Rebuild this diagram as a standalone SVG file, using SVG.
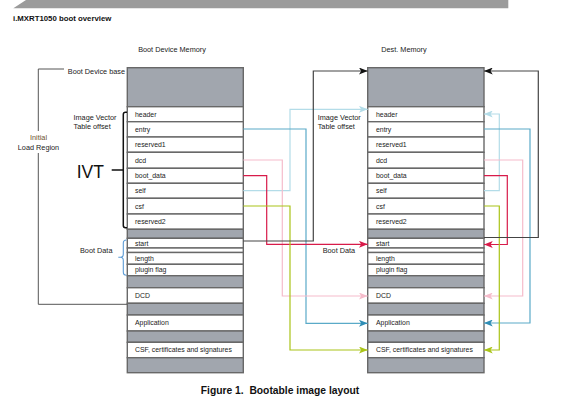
<svg xmlns="http://www.w3.org/2000/svg" width="562" height="415" viewBox="0 0 562 415">
<style>
.w{fill:#fff;stroke:#686868;stroke-width:1.4}
.g{fill:#a1a6ae;stroke:#686868;stroke-width:1.4}
.t{font-family:"Liberation Sans",Arial,sans-serif;font-size:6.9px;fill:#222}
.a{font-family:"Liberation Sans",Arial,sans-serif;font-size:7.3px;fill:#222}
.h{font-family:"Liberation Sans",Arial,sans-serif;font-weight:bold;fill:#111}
.c{fill:none;stroke-width:1.2}
</style>
<defs>
<marker id="m-k" viewBox="0 0 10 8" refX="10" refY="4" markerWidth="9" markerHeight="7" orient="auto" markerUnits="userSpaceOnUse"><path d="M0,0 L10,4 L0,8 L2.5,4z" fill="#111"/></marker>
<marker id="m-lb" viewBox="0 0 10 8" refX="10" refY="4" markerWidth="9" markerHeight="7" orient="auto" markerUnits="userSpaceOnUse"><path d="M0,0 L10,4 L0,8 L2.5,4z" fill="#b3dce8"/></marker>
<marker id="m-tb" viewBox="0 0 10 8" refX="10" refY="4" markerWidth="9" markerHeight="7" orient="auto" markerUnits="userSpaceOnUse"><path d="M0,0 L10,4 L0,8 L2.5,4z" fill="#2f8db5"/></marker>
<marker id="m-pk" viewBox="0 0 10 8" refX="10" refY="4" markerWidth="9" markerHeight="7" orient="auto" markerUnits="userSpaceOnUse"><path d="M0,0 L10,4 L0,8 L2.5,4z" fill="#f5bccb"/></marker>
<marker id="m-rd" viewBox="0 0 10 8" refX="10" refY="4" markerWidth="9" markerHeight="7" orient="auto" markerUnits="userSpaceOnUse"><path d="M0,0 L10,4 L0,8 L2.5,4z" fill="#d81b4a"/></marker>
<marker id="m-gr" viewBox="0 0 10 8" refX="10" refY="4" markerWidth="9" markerHeight="7" orient="auto" markerUnits="userSpaceOnUse"><path d="M0,0 L10,4 L0,8 L2.5,4z" fill="#aac418"/></marker>
</defs>

<rect width="562" height="415" fill="#fff"/>
<polygon points="13.3,8.3 26,0 508.3,0 508.3,8.3" fill="#9b9b9b"/>
<text class="h" x="13" y="20.5" font-size="7.8">i.MXRT1050 boot overview</text>
<text class="a" x="172" y="52" text-anchor="middle" font-size="7.2">Boot Device Memory</text>
<text class="a" x="404" y="52" text-anchor="middle" font-size="7.2">Dest. Memory</text>

<g id="boot-device-memory">
<g id="bd-base"><rect class="g" x="127.3" y="67.7" width="116" height="39"/></g>
<g id="bd-header"><rect class="w" x="127.3" y="106.7" width="116" height="15"/><text class="t" x="135" y="116.6">header</text></g>
<g id="bd-entry"><rect class="w" x="127.3" y="121.7" width="116" height="15.3"/><text class="t" x="135" y="131.8">entry</text></g>
<g id="bd-reserved1"><rect class="w" x="127.3" y="137" width="116" height="15.3"/><text class="t" x="135" y="147">reserved1</text></g>
<g id="bd-dcd"><rect class="w" x="127.3" y="152.3" width="116" height="16"/><text class="t" x="135" y="162.7">dcd</text></g>
<g id="bd-boot-data"><rect class="w" x="127.3" y="168.3" width="116" height="15"/><text class="t" x="135" y="178.2">boot_data</text></g>
<g id="bd-self"><rect class="w" x="127.3" y="183.3" width="116" height="15"/><text class="t" x="135" y="193.2">self</text></g>
<g id="bd-csf"><rect class="w" x="127.3" y="198.3" width="116" height="15.7"/><text class="t" x="135" y="208.5">csf</text></g>
<g id="bd-reserved2"><rect class="w" x="127.3" y="214" width="116" height="15.3"/><text class="t" x="135" y="224">reserved2</text></g>
<g id="bd-pad1"><rect class="g" x="127.3" y="229.3" width="116" height="9"/></g>
<g id="bd-start"><rect class="w" x="127.3" y="238.3" width="116" height="9.7"/><text class="t" x="135" y="245.5">start</text></g>
<g id="bd-gap"><rect class="w" x="127.3" y="248" width="116" height="4.5"/></g>
<g id="bd-length"><rect class="w" x="127.3" y="252.5" width="116" height="11.8"/><text class="t" x="135" y="260.8">length</text></g>
<g id="bd-plugin"><rect class="w" x="127.3" y="264.3" width="116" height="11.4"/><text class="t" x="135" y="272.4">plugin flag</text></g>
<g id="bd-pad2"><rect class="g" x="127.3" y="275.7" width="116" height="12"/></g>
<g id="bd-DCD"><rect class="w" x="127.3" y="287.7" width="116" height="15.6"/><text class="t" x="135" y="297.9">DCD</text></g>
<g id="bd-pad3"><rect class="g" x="127.3" y="303.3" width="116" height="11.7"/></g>
<g id="bd-app"><rect class="w" x="127.3" y="315" width="116" height="16"/><text class="t" x="135" y="325.4">Application</text></g>
<g id="bd-pad4"><rect class="g" x="127.3" y="331" width="116" height="11.3"/></g>
<g id="bd-csf-data"><rect class="w" x="127.3" y="342.3" width="116" height="15.4"/><text class="t" x="135" y="352.4">CSF, certificates and signatures</text></g>
<g id="bd-pad5"><rect class="g" x="127.3" y="357.7" width="116" height="15"/></g>
</g>

<g id="dest-memory">
<g id="dm-base"><rect class="g" x="367.7" y="67.7" width="116.3" height="39"/></g>
<g id="dm-header"><rect class="w" x="367.7" y="106.7" width="116.3" height="15"/><text class="t" x="376" y="116.6">header</text></g>
<g id="dm-entry"><rect class="w" x="367.7" y="121.7" width="116.3" height="15.3"/><text class="t" x="376" y="131.8">entry</text></g>
<g id="dm-reserved1"><rect class="w" x="367.7" y="137" width="116.3" height="15.3"/><text class="t" x="376" y="147">reserved1</text></g>
<g id="dm-dcd"><rect class="w" x="367.7" y="152.3" width="116.3" height="16"/><text class="t" x="376" y="162.7">dcd</text></g>
<g id="dm-boot-data"><rect class="w" x="367.7" y="168.3" width="116.3" height="15"/><text class="t" x="376" y="178.2">boot_data</text></g>
<g id="dm-self"><rect class="w" x="367.7" y="183.3" width="116.3" height="15"/><text class="t" x="376" y="193.2">self</text></g>
<g id="dm-csf"><rect class="w" x="367.7" y="198.3" width="116.3" height="15.7"/><text class="t" x="376" y="208.5">csf</text></g>
<g id="dm-reserved2"><rect class="w" x="367.7" y="214" width="116.3" height="15.3"/><text class="t" x="376" y="224">reserved2</text></g>
<g id="dm-pad1"><rect class="g" x="367.7" y="229.3" width="116.3" height="9"/></g>
<g id="dm-start"><rect class="w" x="367.7" y="238.3" width="116.3" height="9.7"/><text class="t" x="376" y="245.5">start</text></g>
<g id="dm-gap"><rect class="w" x="367.7" y="248" width="116.3" height="4.5"/></g>
<g id="dm-length"><rect class="w" x="367.7" y="252.5" width="116.3" height="11.8"/><text class="t" x="376" y="260.8">length</text></g>
<g id="dm-plugin"><rect class="w" x="367.7" y="264.3" width="116.3" height="11.4"/><text class="t" x="376" y="272.4">plugin flag</text></g>
<g id="dm-pad2"><rect class="g" x="367.7" y="275.7" width="116.3" height="12"/></g>
<g id="dm-DCD"><rect class="w" x="367.7" y="287.7" width="116.3" height="15.6"/><text class="t" x="376" y="297.9">DCD</text></g>
<g id="dm-pad3"><rect class="g" x="367.7" y="303.3" width="116.3" height="11.7"/></g>
<g id="dm-app"><rect class="w" x="367.7" y="315" width="116.3" height="16"/><text class="t" x="376" y="325.4">Application</text></g>
<g id="dm-pad4"><rect class="g" x="367.7" y="331" width="116.3" height="11.3"/></g>
<g id="dm-csf-data"><rect class="w" x="367.7" y="342.3" width="116.3" height="15.4"/><text class="t" x="376" y="352.4">CSF, certificates and signatures</text></g>
<g id="dm-pad5"><rect class="g" x="367.7" y="357.7" width="116.3" height="15"/></g>
</g>

<g id="annotations">
<g id="initial-load-region">
<path d="M64,69 H38.3 V131 M38.3,153 V304.3 H127.3" fill="none" stroke="#555" stroke-width="1"/>
<text class="a" x="38.5" y="140" text-anchor="middle" style="fill:#6e5530">Initial</text>
<text class="a" x="38.5" y="149.8" text-anchor="middle">Load Region</text>
</g>
<text class="a" x="125" y="74" text-anchor="end">Boot Device base</text>
<text class="a" x="73.5" y="119.5">Image Vector</text>
<text class="a" x="73.5" y="128.7">Table offset</text>
<g id="ivt">
<path d="M127,112.3 H125.5 Q123.3,112.3 123.3,114.5 V225.5 Q123.3,227.7 125.5,227.7 H127 M111.7,170 H123.3" fill="none" stroke="#111" stroke-width="1.5"/>
<text x="76.7" y="177.7" font-family="Liberation Sans,Arial,sans-serif" font-size="17.5" fill="#111">IVT</text>
</g>
<g id="boot-data-left">
<path d="M126.5,240 Q123.3,240 123.3,243 V254 Q123.3,257.3 120.5,257.3 Q123.3,257.3 123.3,260.5 V272 Q123.3,275.3 126.5,275.3 M118.3,257.3 H121" fill="none" stroke="#5b9bd5" stroke-width="1.1"/>
<text class="a" x="80" y="253">Boot Data</text>
</g>
<text class="a" x="317.7" y="119.5">Image Vector</text>
<text class="a" x="317.7" y="128.7">Table offset</text>
<text class="a" x="322.7" y="252.7">Boot Data</text>
</g>

<g id="connectors">
<path class="c" stroke="#b3dce8" d="M243.3,190.7 H290 V109.3 H367.7" marker-end="url(#m-lb)"/>
<path class="c" stroke="#b3dce8" d="M484,190.7 H499.3 V114 H484" marker-end="url(#m-lb)"/>
<path class="c" stroke="#5aaac8" d="M243.3,129 H306 V323.3 H367.7" marker-end="url(#m-tb)"/>
<path class="c" stroke="#5aaac8" d="M484,129 H530 V323 H484" marker-end="url(#m-tb)"/>
<path class="c" stroke="#f5bccb" d="M243.3,160 H282.3 V296 H367.7" marker-end="url(#m-pk)"/>
<path class="c" stroke="#f5bccb" d="M484,160 H522.7 V296 H484" marker-end="url(#m-pk)"/>
<path class="c" stroke="#d81b4a" d="M243.3,175.7 H266.7 V244.3 H367.7" marker-end="url(#m-rd)"/>
<path class="c" stroke="#d81b4a" d="M484,175.7 H507.3 V244.5 H484" marker-end="url(#m-rd)"/>
<path class="c" stroke="#aac418" d="M243.3,206 H290 V350 H367.7" marker-end="url(#m-gr)"/>
<path class="c" stroke="#aac418" d="M484,206 H499.3 V350 H484" marker-end="url(#m-gr)"/>
<path class="c" stroke="#444" d="M243.3,241 H313.3 V71 H367.7" marker-end="url(#m-k)"/>
<path class="c" stroke="#444" d="M484,237.5 H538.3 V71 H484" marker-end="url(#m-k)"/>
</g>

<text class="h" x="280" y="394" text-anchor="middle" font-size="10.3" style="white-space:pre">Figure 1.  Bootable image layout</text>
</svg>
